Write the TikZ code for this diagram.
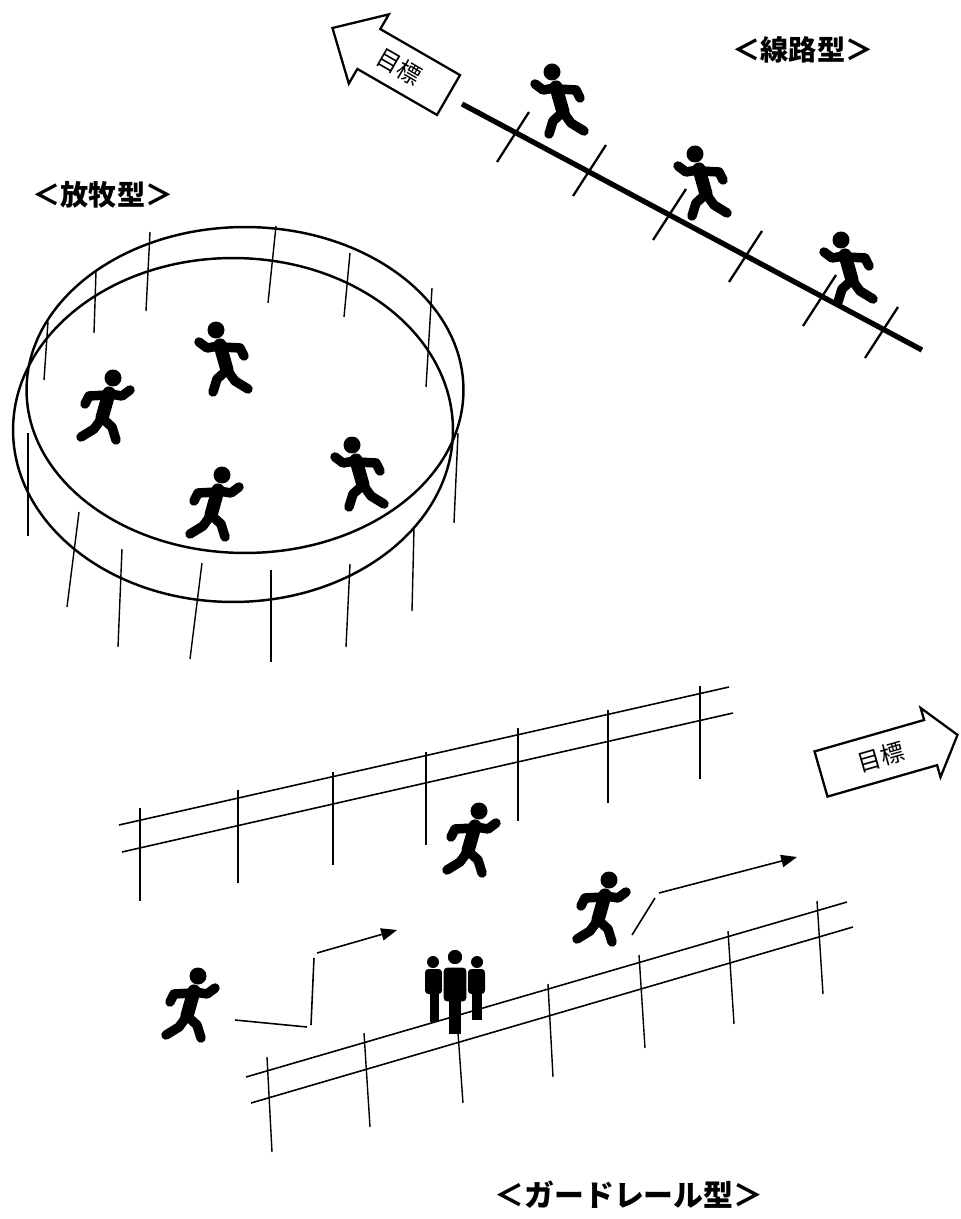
\documentclass[tikz,border=0pt]{standalone}
\usepackage{fontspec}
\usepackage{tikz}
\usetikzlibrary{arrows.meta}
\newfontfamily\jp{Noto Sans CJK JP}
\tikzstyle{title} = [font=\jp\bfseries\fontsize{16pt}{18pt}\selectfont, inner sep=0pt]
\tikzstyle{goal} = [draw=black, line width=1.3pt, fill=white, line join=miter]
\tikzstyle{goaltext} = [font=\jp\fontsize{13.5pt}{14pt}\selectfont, inner sep=0pt]
\tikzstyle{fence} = [line width=1.4pt]
\tikzstyle{post} = [line width=0.8pt]
\tikzstyle{rail} = [line width=0.9pt]
\tikzstyle{track} = [line width=3pt]
\tikzstyle{tick} = [line width=1.3pt]
\tikzstyle{route} = [line width=0.9pt]
\tikzstyle{limb} = [line width=5.4pt, line cap=round, line join=round]
\tikzset{%
    runner/.pic={%
        \fill (6,-30) circle [radius=0.17cm];
        \draw [limb, line width=7.5pt] (2,-15) -- (-5,10);
        \draw [limb] (3,-14) -- (15,-12) -- (23,-18);
        \draw [limb] (0,-13) -- (-18,-12) -- (-22,-4);
        \draw [limb] (-5,10) -- (-13,21) -- (-26,29);
        \draw [limb] (-5,10) -- (5,19) -- (9,32);
    },
}

\begin{document}
\begin{tikzpicture}[x=0.02cm, y=-0.02cm]
\useasboundingbox (0,0) rectangle (960,1219);

% line type
\node[title] (senro) at (803,50) {＜線路型＞};
\draw[track] (462,104) -- (922,350);
\draw[tick] (497,162) -- (529,112);
\draw[tick] (573,196) -- (606,145);
\draw[tick] (653,240) -- (686,189);
\draw[tick] (729,282) -- (762,231);
\draw[tick] (803,326) -- (836,275);
\draw[tick] (865,358) -- (898,307);
\pic[xscale=-1] at (558,102) {runner};
\pic[xscale=-1] at (701,184) {runner};
\pic[xscale=-1] at (847,270) {runner};
\begin{scope}[shift={(448.5,95)}, rotate=-30]
    \draw[goal] (0,-23) -- (-92,-23) -- (-92,-40) -- (-134,0) -- (-92,40) -- (-92,23) -- (0,23) -- cycle;
    \node[goaltext, rotate=-30] (goalA) at (-57,0) {目標};
\end{scope}

% pasture type
\node[title] (houboku) at (103,195) {＜放牧型＞};
\draw[fence] (245,390) ellipse [x radius=4.37cm, y radius=3.26cm];
\draw[fence] (233,430) ellipse [x radius=4.4cm, y radius=3.44cm];
\draw[post] (150,232) -- (146,311);
\draw[post] (276,226) -- (268,303);
\draw[post] (350,253) -- (344,317);
\draw[post] (432,288) -- (426,387);
\draw[post] (96,272) -- (94,333);
\draw[post] (48,322) -- (44,380);
\draw[post] (28,433) -- (28,536);
\draw[post] (79,512) -- (67,607);
\draw[post] (122,549) -- (118,647);
\draw[post] (202,563) -- (190,659);
\draw[post] (271,570) -- (271,662);
\draw[post] (350,564) -- (346,647);
\draw[post] (414,528) -- (412,611);
\draw[post] (458,433) -- (454,523);
\pic at (107,408) {runner};
\pic[xscale=-1] at (222,360) {runner};
\pic at (216,505) {runner};
\pic[xscale=-1] at (358,475) {runner};

% guardrail type
\draw[rail] (119,825) -- (729,687);
\draw[rail] (122,852) -- (733,713);
\foreach \x/\t in {140/808, 238/790, 333/772, 426/752, 518/728, 608/710, 700/686}
    \draw[post] (\x,\t) -- (\x,\t+93);
\draw[rail] (246,1077) -- (847,902);
\draw[rail] (251,1103) -- (853,927);
\draw[post] (267,1057) -- (272,1152);
\draw[post] (364,1033) -- (370,1127);
\draw[post] (458,1033) -- (463,1103);
\draw[post] (548,984) -- (553,1077);
\draw[post] (639,955) -- (645,1048);
\draw[post] (728,931) -- (734,1024);
\draw[post] (817,901) -- (823,994);
\pic at (473,841) {runner};
\pic at (603,910) {runner};
\pic at (192,1006) {runner};

% people standing at the rail
\fill (433,962) circle [radius=0.12cm];
\fill[rounded corners=2pt] (425,969) rectangle (442,994);
\fill (429.5,990) rectangle (439,1022);
\fill (477,962) circle [radius=0.12cm];
\fill[rounded corners=2pt] (468,969) rectangle (485,994);
\fill (472,990) rectangle (481.5,1020);
\filldraw[draw=white, line width=0.8pt] (455,957) circle [radius=0.16cm];
\filldraw[draw=white, line width=0.8pt, rounded corners=2pt] (443,967) rectangle (467,1002);
\fill (449,998) rectangle (461,1034);

\coordinate (p1) at (235,1020);
\coordinate (p2) at (307,1027);
\coordinate (p3) at (311,1025);
\coordinate (p4) at (314,958);
\coordinate (p5) at (317,953);
\coordinate (p6) at (397,930);
\coordinate (q1) at (632,935);
\coordinate (q2) at (655,898);
\coordinate (q3) at (659,893);
\coordinate (q4) at (797,857);
\draw[route] (p1) -- (p2);
\draw[route] (p3) -- (p4);
\draw[route, -{Triangle[length=9pt, width=7pt]}] (p5) -- (p6);
\draw[route] (q1) -- (q2);
\draw[route, -{Triangle[length=9pt, width=7pt]}] (q3) -- (q4);

\begin{scope}[shift={(821,774)}, rotate=16]
    \draw[goal] (0,-23.5) -- (114,-23.5) -- (114,-36) -- (142,0) -- (114,36) -- (114,23.5) -- (0,23.5) -- cycle;
    \node[goaltext, rotate=16] (goalB) at (62,0) {目標};
\end{scope}
\node[title, font=\jp\bfseries\fontsize{17pt}{19pt}\selectfont] (guard) at (629,1195) {＜ガードレール型＞};
\end{tikzpicture}
\end{document}
